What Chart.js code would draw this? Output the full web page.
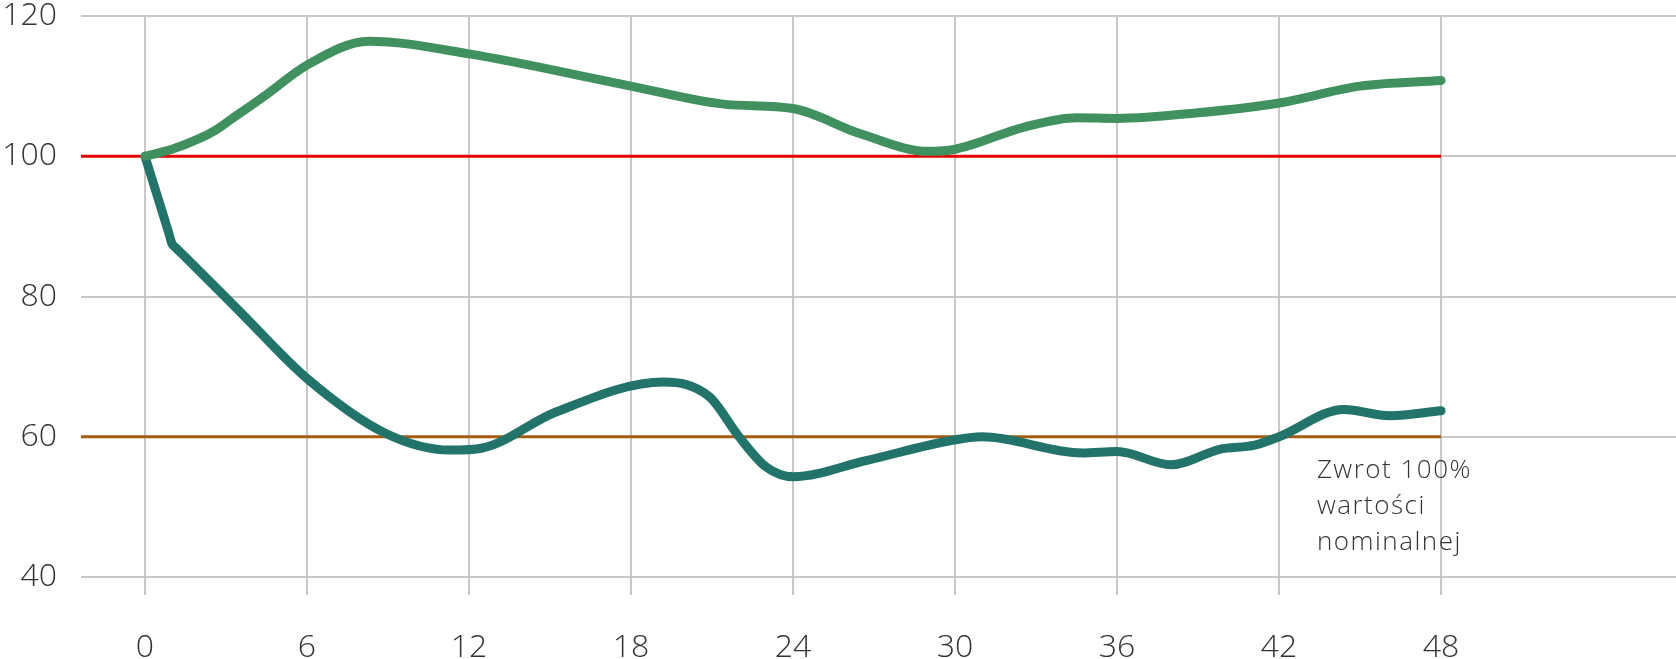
<!DOCTYPE html>
<html>
<head>
<meta charset="utf-8">
<script src="https://cdn.jsdelivr.net/npm/chart.js@4/dist/chart.umd.min.js"></script>
<style>
  html, body { margin: 0; padding: 0; background: #fff; }
  #wrap { width: 1676px; height: 659px; }
</style>
</head>
<body>
<div id="wrap"><canvas id="myChart"></canvas></div>
<script>
// DATA (x = months, y = value)
const xTicks = [0, 6, 12, 18, 24, 30, 36, 42, 48];
const yTicks = [40, 60, 80, 100, 120];

const upperMonths = [0, 1, 2, 2.6, 3.2, 4.5, 6, 8.3, 12, 18, 21.5, 24, 26.5, 29, 30, 32.6, 34.5, 36, 39, 42, 45, 48];
const upperValues = [100, 101, 102.5, 103.7, 105.3, 108.8, 113, 116.4, 114.6, 110, 107.4, 106.8, 103.2, 100.7, 101, 104.2, 105.5, 105.4, 106.2, 107.6, 110, 110.8];

const lowerMonths = [0, 0.5, 0.9, 1, 1.1, 1.5, 3.5, 6, 8.9, 11.3, 12.5, 15.2, 19.2, 20.9, 22, 23, 24, 26.7, 29.9, 31, 34.7, 36, 38, 39.8, 41.1, 42, 44.4, 46.1, 48];
const lowerValues = [100, 93.8, 88.8, 87.5, 87.1, 85.6, 77.9, 68.3, 60.5, 58.1, 58.4, 63.5, 67.8, 65.7, 60, 55.7, 54.3, 56.6, 59.5, 60, 57.7, 57.9, 56, 58.2, 58.8, 60, 63.9, 63, 63.7];

const refLevels = [100, 60];           // red = nominal, brown = 60%
const refEnd = 48;
const X_MIN = -2.37;
const X_MAX = 56.7;

const noteLines = ['Zwrot 100%', 'wartości', 'nominalnej'];
const noteAt = 43.4;

const toPoints = (xs, ys) => xs.map((x, i) => ({ x: x, y: ys[i] }));

// NOTE TEXT UNDER THE 60 LINE
const notePlugin = {
    id: 'note',
    afterDatasetsDraw(chart) {
        const ctx = chart.ctx;
        const x = chart.scales.x.getPixelForValue(noteAt);
        const y0 = chart.scales.y.getPixelForValue(refLevels[1]);
        ctx.save();
        ctx.font = '300 26px "Open Sans"';
        ctx.letterSpacing = '1.5px';
        ctx.fillStyle = '#333333';
        ctx.textBaseline = 'alphabetic';
        noteLines.forEach((line, i) => {
            ctx.fillText(line, x, y0 + 41 + i * 36);
        });
        ctx.restore();
    }
};

var ctx = document.getElementById('myChart');
var myChart = new Chart(ctx, {
    type: 'line',
    data: {
        datasets: [{
            data: toPoints(upperMonths, upperValues),
            borderColor: '#40915f',
            borderWidth: 9,
            borderCapStyle: 'round',
            borderJoinStyle: 'round',
            cubicInterpolationMode: 'monotone',
            pointRadius: 0,
            order: 1
        }, {
            data: toPoints(lowerMonths, lowerValues),
            borderColor: '#22736a',
            borderWidth: 9,
            borderCapStyle: 'round',
            borderJoinStyle: 'round',
            cubicInterpolationMode: 'monotone',
            pointRadius: 0,
            order: 1
        }, {
            data: [{ x: X_MIN, y: refLevels[0] }, { x: refEnd, y: refLevels[0] }],
            borderColor: '#e60000',
            borderWidth: 3,
            pointRadius: 0,
            order: 2
        }, {
            data: [{ x: X_MIN, y: refLevels[1] }, { x: refEnd, y: refLevels[1] }],
            borderColor: '#a65c10',
            borderWidth: 3,
            pointRadius: 0,
            order: 2
        }]
    },
    options: {
        responsive: true,
        maintainAspectRatio: false,
        animation: false,
        layout: { padding: { top: 16, right: 0, left: 0, bottom: 0 } },
        plugins: {
            legend: { display: false },
            tooltip: { enabled: false }
        },
        scales: {
            x: {
                type: 'linear',
                min: X_MIN,
                max: X_MAX,
                afterBuildTicks: (scale) => { scale.ticks = xTicks.map(v => ({ value: v })); },
                afterFit: (scale) => { scale.height = 82; scale.paddingLeft = 0; scale.paddingRight = 0; },
                border: { display: false },
                grid: {
                    color: '#c8c8c8',
                    lineWidth: 2,
                    tickLength: 18,
                    tickColor: '#c8c8c8'
                },
                ticks: {
                    padding: 34,
                    color: '#333333',
                    font: { family: 'Open Sans', size: 32, weight: 300 },
                    maxRotation: 0
                }
            },
            y: {
                min: 40,
                max: 120,
                afterBuildTicks: (scale) => { scale.ticks = yTicks.map(v => ({ value: v })); },
                afterFit: (scale) => { scale.width = 81; scale.paddingTop = 0; scale.paddingBottom = 0; },
                border: { display: false },
                grid: {
                    color: '#c8c8c8',
                    lineWidth: 2,
                    drawTicks: false
                },
                ticks: {
                    padding: 24,
                    color: '#333333',
                    font: { family: 'Open Sans', size: 32, weight: 300 }
                }
            }
        }
    },
    plugins: [notePlugin]
});
</script>
</body>
</html>
